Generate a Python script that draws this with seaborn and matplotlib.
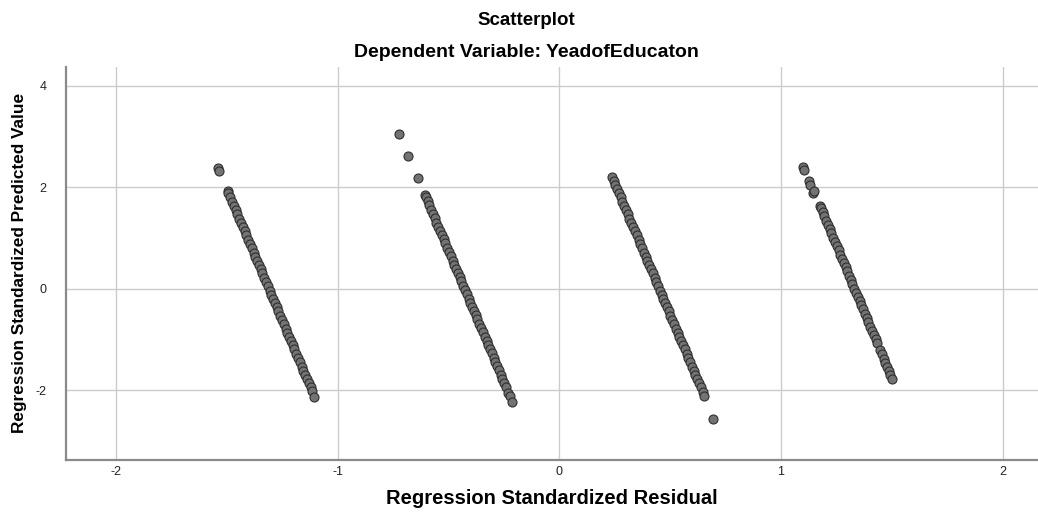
import pandas as pd
import seaborn as sns
import matplotlib.pyplot as plt

# values (x = standardized residual, y = standardized predicted value)
band1_x = [-1.538, -1.533, -1.495, -1.492, -1.484, -1.475, -1.467, -1.460, -1.452, -1.443, -1.436, -1.427,
           -1.419, -1.412, -1.403, -1.395, -1.387, -1.379, -1.371, -1.363, -1.355, -1.347, -1.339, -1.331,
           -1.323, -1.315, -1.307, -1.299, -1.291, -1.282, -1.275, -1.267, -1.258, -1.251, -1.243, -1.234,
           -1.227, -1.219, -1.210, -1.202, -1.195, -1.186, -1.178, -1.171, -1.162, -1.154, -1.146, -1.138,
           -1.130, -1.122, -1.116, -1.105]
band1_y = [2.37, 2.31, 1.92, 1.88, 1.80, 1.71, 1.62, 1.55, 1.47, 1.38, 1.30, 1.21,
           1.13, 1.05, 0.96, 0.88, 0.80, 0.71, 0.63, 0.55, 0.46, 0.38, 0.30, 0.21,
           0.13, 0.05, -0.04, -0.12, -0.20, -0.29, -0.37, -0.45, -0.54, -0.62, -0.70, -0.79,
           -0.87, -0.95, -1.04, -1.12, -1.20, -1.29, -1.37, -1.45, -1.54, -1.62, -1.70, -1.79,
           -1.87, -1.95, -2.02, -2.13]

band2_x = [-0.722, -0.681, -0.636, -0.606, -0.602, -0.594, -0.587, -0.578, -0.570, -0.562, -0.554, -0.546,
           -0.538, -0.530, -0.522, -0.514, -0.505, -0.498, -0.490, -0.481, -0.473, -0.466, -0.457, -0.449,
           -0.441, -0.433, -0.425, -0.417, -0.409, -0.401, -0.393, -0.384, -0.377, -0.369, -0.360, -0.352,
           -0.345, -0.336, -0.328, -0.320, -0.312, -0.304, -0.296, -0.288, -0.280, -0.272, -0.263, -0.256,
           -0.248, -0.239, -0.229, -0.223, -0.212]
band2_y = [3.04, 2.62, 2.17, 1.84, 1.80, 1.72, 1.64, 1.55, 1.47, 1.39, 1.30, 1.22,
           1.14, 1.05, 0.97, 0.89, 0.80, 0.72, 0.64, 0.55, 0.47, 0.39, 0.30, 0.22,
           0.14, 0.05, -0.03, -0.11, -0.20, -0.28, -0.36, -0.45, -0.53, -0.61, -0.70, -0.78,
           -0.86, -0.95, -1.03, -1.11, -1.20, -1.28, -1.36, -1.45, -1.53, -1.61, -1.70, -1.78,
           -1.86, -1.95, -2.05, -2.12, -2.23]

band3_x = [0.239, 0.246, 0.253, 0.261, 0.269, 0.277, 0.285, 0.293, 0.301, 0.309, 0.317, 0.325,
           0.334, 0.341, 0.349, 0.358, 0.365, 0.373, 0.382, 0.390, 0.397, 0.406, 0.414, 0.421,
           0.430, 0.438, 0.446, 0.454, 0.462, 0.470, 0.478, 0.486, 0.494, 0.502, 0.510, 0.518,
           0.527, 0.534, 0.542, 0.551, 0.558, 0.566, 0.575, 0.583, 0.590, 0.599, 0.607, 0.614,
           0.623, 0.631, 0.639, 0.647, 0.654, 0.694]
band3_y = [2.19, 2.12, 2.04, 1.96, 1.88, 1.80, 1.71, 1.63, 1.55, 1.46, 1.38, 1.30,
           1.21, 1.13, 1.05, 0.96, 0.88, 0.80, 0.71, 0.63, 0.55, 0.46, 0.38, 0.30,
           0.21, 0.13, 0.05, -0.04, -0.12, -0.20, -0.29, -0.37, -0.45, -0.54, -0.62, -0.70,
           -0.79, -0.87, -0.95, -1.04, -1.12, -1.20, -1.29, -1.37, -1.45, -1.54, -1.62, -1.70,
           -1.79, -1.87, -1.95, -2.04, -2.11, -2.57]

band4_x = [1.100, 1.106, 1.127, 1.133, 1.145, 1.150, 1.177, 1.181, 1.189, 1.196, 1.204, 1.212,
           1.220, 1.228, 1.236, 1.244, 1.252, 1.260, 1.268, 1.276, 1.284, 1.292, 1.299, 1.308,
           1.316, 1.323, 1.332, 1.340, 1.347, 1.356, 1.363, 1.371, 1.380, 1.387, 1.395, 1.404,
           1.411, 1.419, 1.428, 1.435, 1.449, 1.456, 1.464, 1.471, 1.480, 1.488, 1.494, 1.502]
band4_y = [2.39, 2.33, 2.11, 2.05, 1.88, 1.92, 1.62, 1.58, 1.50, 1.42, 1.34, 1.25,
           1.17, 1.09, 1.00, 0.92, 0.84, 0.75, 0.67, 0.59, 0.50, 0.42, 0.34, 0.25,
           0.17, 0.09, 0.00, -0.08, -0.16, -0.25, -0.33, -0.41, -0.50, -0.58, -0.66, -0.75,
           -0.83, -0.91, -1.00, -1.08, -1.22, -1.30, -1.38, -1.46, -1.55, -1.63, -1.70, -1.78]

x_ticks = [-2, -1, 0, 1, 2]
y_ticks = [-2, 0, 2, 4]

df = pd.DataFrame({
    "resid": band1_x + band2_x + band3_x + band4_x,
    "pred": band1_y + band2_y + band3_y + band4_y,
})

sns.set_style("white")
plt.rcParams['font.family'] = ['Liberation Sans', 'DejaVu Sans']
plt.rcParams['axes.unicode_minus'] = False

fig = plt.figure(figsize=(10.38, 5.14), dpi=100)
ax = fig.add_axes([0.0636, 0.105, 0.9364, 0.765])

ax.grid(True, color="#cccccc", linewidth=1.0)
ax.set_axisbelow(True)

sns.scatterplot(data=df, x="resid", y="pred", ax=ax, s=42, color="#737373",
                edgecolor="#2e2e2e", linewidth=0.8, zorder=3)

ax.set_xlim(-2.225, 2.16)
ax.set_ylim(-3.38, 4.37)
ax.set_xticks(x_ticks)
ax.set_yticks(y_ticks)
ax.tick_params(length=0, labelsize=9, colors="#222222")
ax.tick_params(axis="x", pad=4)
ax.tick_params(axis="y", pad=14)

for side in ["top", "right"]:
    ax.spines[side].set_visible(False)
for side in ["left", "bottom"]:
    ax.spines[side].set_color("#8a8a8a")
    ax.spines[side].set_linewidth(1.6)

ax.set_xlabel("Regression Standardized Residual", fontsize=14.5, fontweight="bold",
              labelpad=8, color="black")
ax.set_ylabel("Regression Standardized Predicted Value", fontsize=12.4, fontweight="bold",
              labelpad=6, color="black")

fig.text(0.507, 0.96, "Scatterplot", ha="center", va="center", fontsize=13.5,
         fontweight="bold", color="black")
fig.text(0.507, 0.898, "Dependent Variable: YeadofEducaton", ha="center", va="center",
         fontsize=14, fontweight="bold", color="black")

fig.savefig("out.png", dpi=100)
